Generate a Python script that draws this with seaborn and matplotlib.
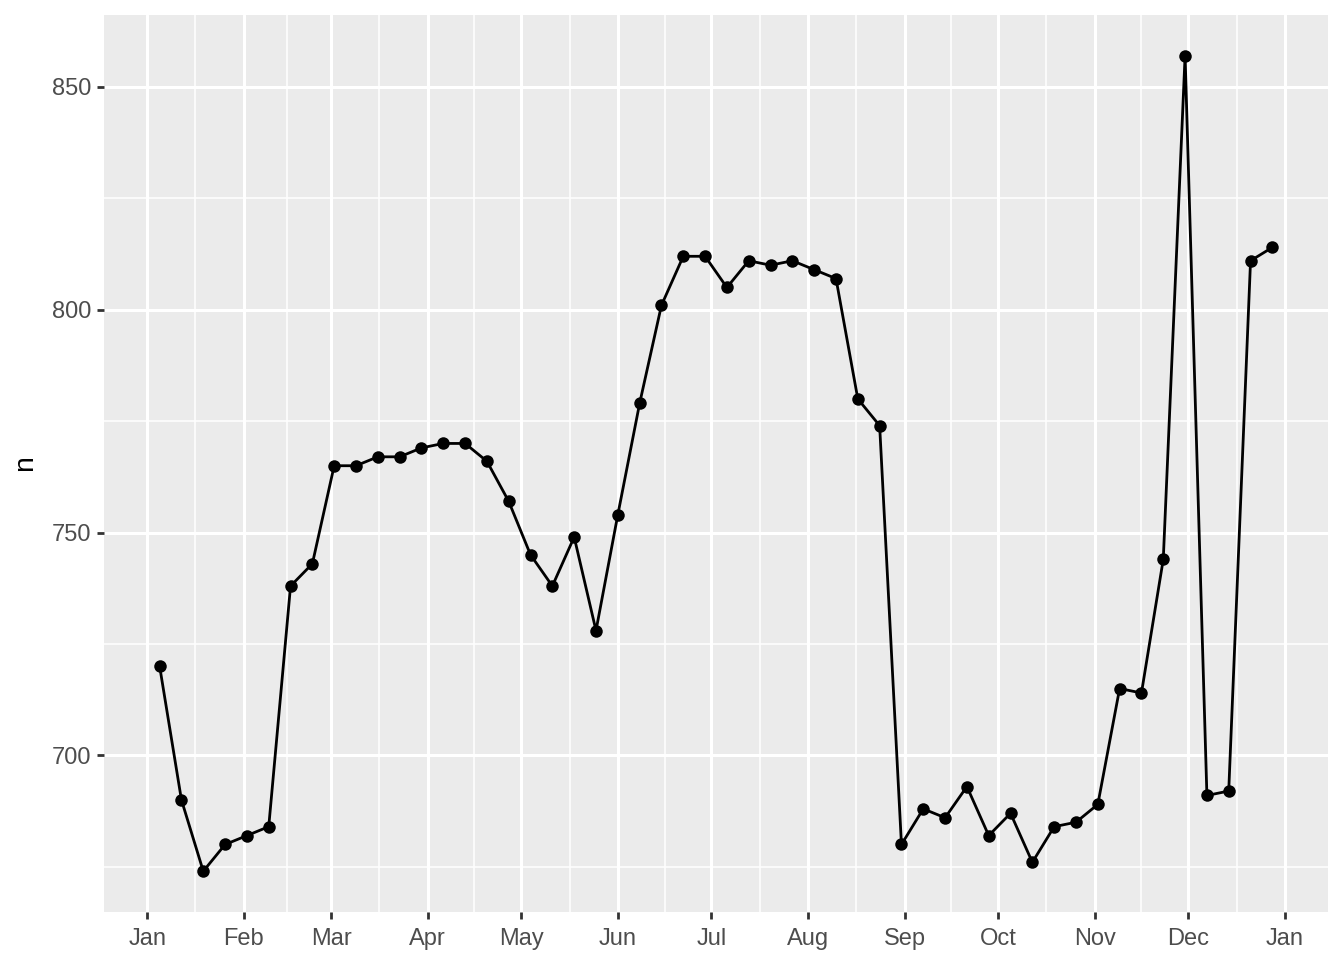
import pandas as pd
import numpy as np
import matplotlib
matplotlib.use("Agg")
import matplotlib.pyplot as plt
import matplotlib.dates as mdates
from matplotlib.ticker import FixedLocator
import seaborn as sns

# weekly flight counts
week_start = "2013-01-05"
n_weeks = 52
counts = [720, 690, 674, 680, 682, 684, 738, 743, 765, 765,
          767, 767, 769, 770, 770, 766, 757, 745, 738, 749,
          728, 754, 779, 801, 812, 812, 805, 811, 810, 811,
          809, 807, 780, 774, 680, 688, 686, 693, 682, 687,
          676, 684, 685, 689, 715, 714, 744, 857, 691, 692,
          811, 814]
y_ticks = [700, 750, 800, 850]

df = pd.DataFrame({
    "week": pd.date_range(week_start, periods=n_weeks, freq="7D"),
    "n": counts,
})

sns.set_theme(style="darkgrid", rc={
    "axes.facecolor": "#EBEBEB",
    "figure.facecolor": "white",
    "grid.color": "white",
})
plt.rcParams["font.family"] = ["Liberation Sans", "DejaVu Sans"]

fig = plt.figure(figsize=(13.44, 9.6), dpi=100)
ax = fig.add_axes([104 / 1344, 48 / 960, 1224 / 1344, 897 / 960])

sns.lineplot(data=df, x="week", y="n", color="black", linewidth=2.0,
             marker="o", markersize=9, markeredgewidth=0, ax=ax, zorder=3)

# ggplot-like 5% expansion
x0, x1 = mdates.date2num(df["week"].min()), mdates.date2num(df["week"].max())
dx = (x1 - x0) * 0.05
ax.set_xlim(x0 - dx, x1 + dx)
y0, y1 = min(counts), max(counts)
dy = (y1 - y0) * 0.05
ax.set_ylim(y0 - dy, y1 + dy)

months = pd.date_range("2013-01-01", "2014-01-01", freq="MS")
mnum = mdates.date2num(months)
ax.xaxis.set_major_locator(FixedLocator(mnum))
ax.set_xticklabels([m.strftime("%b") for m in months])
ax.xaxis.set_minor_locator(FixedLocator((mnum[:-1] + mnum[1:]) / 2))

ax.set_yticks(y_ticks)
ax.yaxis.set_minor_locator(FixedLocator([675, 725, 775, 825]))

ax.grid(which="major", color="white", linewidth=2.2)
ax.grid(which="minor", color="white", linewidth=1.1)
for s in ax.spines.values():
    s.set_visible(False)

ax.tick_params(which="major", length=5.2, width=2.0, color="#333333",
               labelsize=17, labelcolor="#4D4D4D")
ax.tick_params(axis="x", pad=6)
ax.tick_params(axis="y", pad=4)
ax.tick_params(which="minor", length=0)
ax.tick_params(axis="x", bottom=True)
ax.tick_params(axis="y", left=True)

ax.set_xlabel("")
ax.set_ylabel("n", fontsize=20.5, color="black", labelpad=10)

fig.savefig("out.png", dpi=100)
